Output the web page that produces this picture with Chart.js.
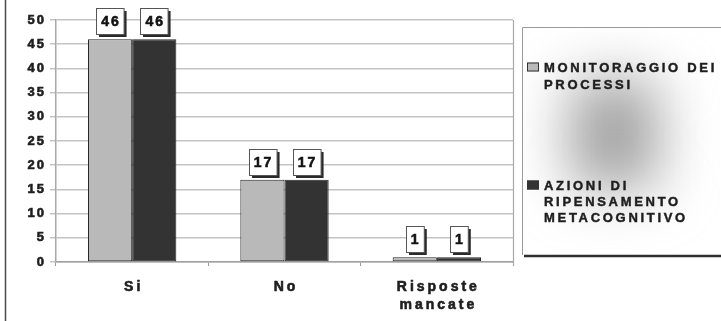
<!DOCTYPE html>
<html>
<head>
<meta charset="utf-8">
<script src="https://cdn.jsdelivr.net/npm/chart.js@4/dist/chart.umd.min.js"></script>
<style>
  html, body { margin: 0; padding: 0; background: #ffffff; }
  #wrap { width: 721px; height: 321px; position: relative; }
</style>
</head>
<body>
<div id="wrap"><canvas id="c" width="721" height="321"></canvas></div>
<script>
// Risposte raccolte per categoria
const categories = ['Si', 'No', ['Risposte', 'mancate']];
const monitoraggio = [46, 17, 1];
const ripensamento = [46, 17, 1];
const seriesNames = [
  ['MONITORAGGIO DEI', 'PROCESSI'],
  ['AZIONI DI', 'RIPENSAMENTO', 'METACOGNITIVO']
];
const seriesColors = ['#b9b9b9', '#333333'];
const yTicks = { min: 0, max: 50, step: 5 };

const FONT = '"Liberation Sans", Arial, sans-serif';
const TEXT = '#1e1e1e';

// width of a string drawn with a given letter spacing (no trailing gap)
function spacedWidth(ctx, s, sp) {
  ctx.letterSpacing = '0px';
  let w = 0;
  for (const ch of s) w += ctx.measureText(ch).width;
  return w + sp * (s.length - 1);
}
// heavy, letter-spaced text
function spacedText(ctx, s, x, y, sp, weight) {
  ctx.letterSpacing = sp + 'px';
  ctx.textAlign = 'left';
  ctx.lineWidth = weight;
  ctx.strokeStyle = ctx.fillStyle;
  ctx.fillText(s, x, y);
  ctx.strokeText(s, x, y);
  ctx.letterSpacing = '0px';
}

// give each axis its own letter spacing for the tick labels
function spaceLabels(sp) {
  return function (scale) {
    if (scale._spaced) return;
    scale._spaced = true;
    const base = scale.drawLabels;
    scale.drawLabels = function (area) {
      const ctx = this.ctx;
      ctx.save();
      ctx.letterSpacing = sp + 'px';
      ctx.translate(this.isHorizontal() ? sp / 2 : sp, 0);
      base.call(this, area);
      ctx.restore();
    };
  };
}

const framePlugin = {
  id: 'frame',
  afterDraw(chart) {
    const ctx = chart.ctx;
    const a = chart.chartArea;
    ctx.save();
    // outer left rule
    ctx.strokeStyle = '#4a4a4a';
    ctx.lineWidth = 1.5;
    ctx.beginPath();
    ctx.moveTo(5.5, 0); ctx.lineTo(5.5, 321);
    ctx.stroke();
    // right edge of plot area
    ctx.strokeStyle = '#a8a8a8';
    ctx.lineWidth = 1.2;
    ctx.beginPath();
    ctx.moveTo(a.right + 0.5, a.top); ctx.lineTo(a.right + 0.5, a.bottom + 3);
    ctx.stroke();

    // legend panel with soft grey centre
    const lx = 522, ly = 27, lw = 210, lh = 228;
    ctx.save();
    ctx.beginPath();
    ctx.rect(lx, ly, lw, lh);
    ctx.clip();
    ctx.fillStyle = '#ffffff';
    ctx.fillRect(lx, ly, lw, lh);
    ctx.filter = 'blur(28px)';
    ctx.fillStyle = '#a2a2a2';
    ctx.fillRect(570, 80, 88, 108);
    ctx.filter = 'none';
    ctx.restore();
    ctx.strokeStyle = '#9a9a9a';
    ctx.lineWidth = 1;
    ctx.beginPath();
    ctx.moveTo(lx + 0.5, ly + lh); ctx.lineTo(lx + 0.5, ly + 0.5); ctx.lineTo(721, ly + 0.5);
    ctx.stroke();
    ctx.strokeStyle = '#2e2e2e';
    ctx.lineWidth = 2.5;
    ctx.beginPath();
    ctx.moveTo(lx + 2, ly + lh + 1); ctx.lineTo(721, ly + lh + 1);
    ctx.stroke();

    // legend entries
    const entryTop = [67, 185];
    const lineH = [17, 16];
    ctx.font = 'bold 13px ' + FONT;
    ctx.textBaseline = 'middle';
    chart.data.datasets.forEach((ds, i) => {
      const y0 = entryTop[i];
      ctx.fillStyle = ds.backgroundColor;
      ctx.fillRect(527, y0 - 4.5, 12, 9);
      ctx.strokeStyle = '#333333';
      ctx.lineWidth = 1;
      ctx.strokeRect(527.5, y0 - 4, 11, 8);
      ctx.fillStyle = TEXT;
      seriesNames[i].forEach((line, k) => {
        spacedText(ctx, line, 544, y0 + k * lineH[i] + 1, 2.7, 0.45);
      });
    });
    ctx.restore();
  }
};

// boxed value labels above each bar
const valueBoxes = {
  id: 'valueBoxes',
  afterDatasetsDraw(chart) {
    const ctx = chart.ctx;
    ctx.save();
    ctx.font = 'bold 14px ' + FONT;
    ctx.textBaseline = 'middle';
    chart.data.datasets.forEach((ds, di) => {
      const meta = chart.getDatasetMeta(di);
      meta.data.forEach((bar, i) => {
        const s = String(ds.data[i]);
        const tw = spacedWidth(ctx, s, 2);
        const bw = tw + 10, bh = 26;
        const bx = Math.round(bar.x - bw / 2) + 0.5;
        const by = Math.round(bar.y - 5 - bh) + 0.5;
        ctx.fillStyle = '#2a2a2a';
        ctx.fillRect(bx + 2.5, by + 2.5, bw, bh);
        ctx.fillStyle = '#ffffff';
        ctx.fillRect(bx, by, bw, bh);
        ctx.strokeStyle = '#555555';
        ctx.lineWidth = 1;
        ctx.strokeRect(bx, by, bw, bh);
        ctx.fillStyle = '#111111';
        spacedText(ctx, s, bar.x - tw / 2, by + bh / 2 + 1, 2, 0.6);
      });
    });
    ctx.restore();
  }
};

new Chart(document.getElementById('c'), {
  type: 'bar',
  data: {
    labels: categories,
    datasets: [
      { label: seriesNames[0].join(' '), data: monitoraggio, backgroundColor: seriesColors[0] },
      { label: seriesNames[1].join(' '), data: ripensamento, backgroundColor: seriesColors[1] }
    ]
  },
  options: {
    responsive: false,
    animation: false,
    devicePixelRatio: 1,
    layout: { padding: { top: 20, right: 208, left: 0, bottom: 0 } },
    datasets: {
      bar: { categoryPercentage: 0.58, barPercentage: 1.0, borderColor: '#262626', borderWidth: 1, borderSkipped: false }
    },
    plugins: { legend: { display: false }, tooltip: { enabled: false } },
    scales: {
      x: {
        grid: { offset: true, drawOnChartArea: false, drawTicks: true, tickLength: 4, color: '#9a9a9a' },
        border: { display: true, color: '#a0a0a0', width: 1.5 },
        ticks: {
          color: TEXT,
          font: { family: FONT, size: 14, weight: 'bold', lineHeight: 1.3 },
          textStrokeColor: TEXT,
          textStrokeWidth: 0.6,
          padding: 12,
          maxRotation: 0,
          autoSkip: false
        },
        afterFit(scale) { scale.height = 59; },
        afterUpdate: spaceLabels(3)
      },
      y: {
        min: yTicks.min,
        max: yTicks.max,
        grid: { color: '#c4c4c4', lineWidth: 1.5, tickLength: 6 },
        border: { display: true, color: '#a8a8a8', width: 1.5 },
        ticks: {
          stepSize: yTicks.step,
          color: TEXT,
          font: { family: FONT, size: 13, weight: 'bold' },
          textStrokeColor: TEXT,
          textStrokeWidth: 0.6,
          padding: 6
        },
        afterFit(scale) { scale.width = 56; },
        afterUpdate: spaceLabels(2)
      }
    }
  },
  plugins: [framePlugin, valueBoxes]
});
</script>
</body>
</html>
